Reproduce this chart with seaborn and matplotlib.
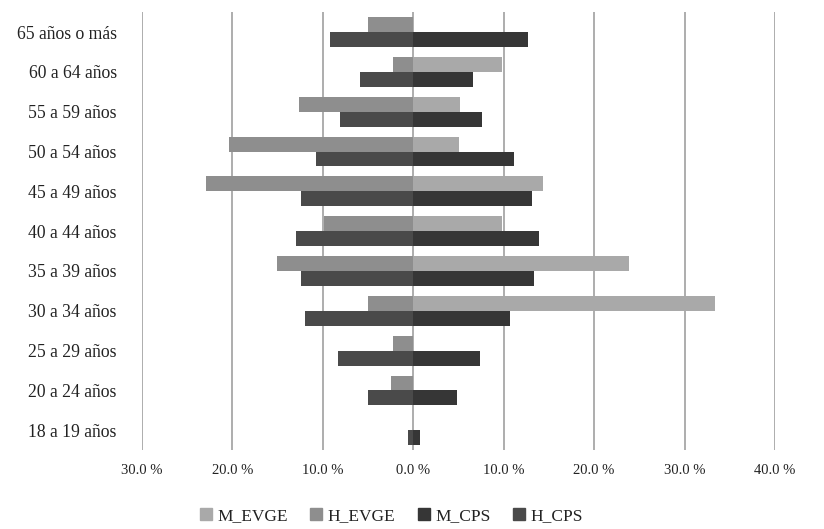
import matplotlib
matplotlib.use("Agg")
import matplotlib.pyplot as plt
from matplotlib.patches import Patch
import seaborn as sns
import pandas as pd

categories = ["65 años o más", "60 a 64 años", "55 a 59 años", "50 a 54 años",
              "45 a 49 años", "40 a 44 años", "35 a 39 años", "30 a 34 años",
              "25 a 29 años", "20 a 24 años", "18 a 19 años"]
m_evge = [0.0, 9.8, 5.2, 5.1, 14.4, 9.8, 23.9, 33.4, 0.0, 0.0, 0.0]
h_evge = [5.0, 2.2, 12.6, 20.3, 22.9, 9.9, 15.1, 5.0, 2.2, 2.4, 0.0]
m_cps = [12.7, 6.6, 7.6, 11.2, 13.1, 13.9, 13.4, 10.7, 7.4, 4.8, 0.8]
h_cps = [9.2, 5.9, 8.1, 10.7, 12.4, 12.9, 12.4, 12.0, 8.3, 5.0, 0.6]
tick_vals = [-30, -20, -10, 0, 10, 20, 30, 40]
tick_labels = ["30.0 %", "20.0 %", "10.0 %", "0.0 %", "10.0 %", "20.0 %", "30.0 %", "40.0 %"]

c_m_evge = "#a9a9a9"
c_h_evge = "#8e8e8e"
c_m_cps = "#363636"
c_h_cps = "#4a4a4a"

rows = []
for i, c in enumerate(categories):
    rows.append(dict(cat=c, src="EVGE", sex="M", val=m_evge[i]))
    rows.append(dict(cat=c, src="CPS", sex="M", val=m_cps[i]))
    rows.append(dict(cat=c, src="EVGE", sex="H", val=-h_evge[i]))
    rows.append(dict(cat=c, src="CPS", sex="H", val=-h_cps[i]))
df = pd.DataFrame(rows)

sns.set_style("white")
plt.rcParams["font.family"] = ["Liberation Serif", "DejaVu Serif"]

fig = plt.figure(figsize=(8.24, 5.29), dpi=100)
ax = fig.add_axes([0.172, 0.149, 0.7685, 0.828])

for sex, pal in (("M", {"EVGE": c_m_evge, "CPS": c_m_cps}),
                 ("H", {"EVGE": c_h_evge, "CPS": c_h_cps})):
    sns.barplot(data=df[df.sex == sex], y="cat", x="val", hue="src",
                hue_order=["EVGE", "CPS"], order=categories, palette=pal,
                orient="h", width=0.75, dodge=True, ax=ax, legend=False,
                errorbar=None, saturation=1, linewidth=0)

ax.set_xlim(-30, 40)
ax.set_ylim(10.5, -0.5)
ax.set_xticks(tick_vals)
ax.set_xticklabels(tick_labels)
ax.grid(axis="x", color="#a0a0a0", linewidth=1.2)
ax.grid(axis="y", visible=False)
ax.set_axisbelow(True)
for s in ax.spines.values():
    s.set_visible(False)
ax.tick_params(axis="y", length=0, pad=18, labelsize=12.7, labelcolor="#222222")
ax.tick_params(axis="x", length=0, pad=10, labelsize=10.5, labelcolor="#222222")
ax.set_xlabel("")
ax.set_ylabel("")

handles = [Patch(color=c_m_evge, label="M_EVGE"), Patch(color=c_h_evge, label="H_EVGE"),
           Patch(color=c_m_cps, label="M_CPS"), Patch(color=c_h_cps, label="H_CPS")]
fig.legend(handles=handles, loc="center", bbox_to_anchor=(0.475, 0.025), ncol=4,
           frameon=False, fontsize=12.5, handlelength=0.7, handleheight=0.7,
           handletextpad=0.3, columnspacing=1.3, labelcolor="#222222")

fig.savefig("out.png", dpi=100)
